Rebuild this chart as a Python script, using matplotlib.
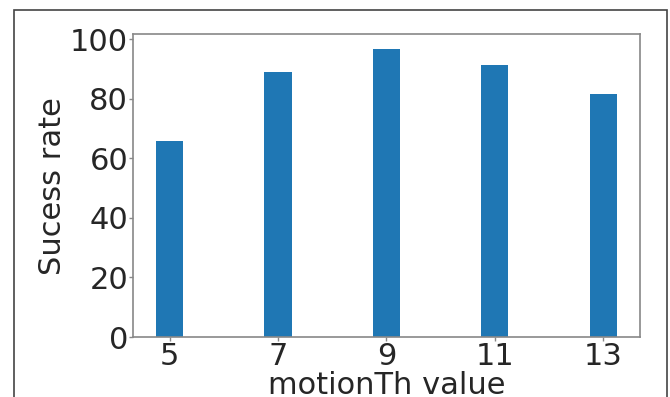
import matplotlib
matplotlib.use("Agg")
import matplotlib.pyplot as plt
from matplotlib.patches import Rectangle

motion_th = [5, 7, 9, 11, 13]
success_rate = [65.9, 89.1, 96.8, 91.4, 81.7]
y_ticks = [0, 20, 40, 60, 80, 100]

fig = plt.figure(figsize=(6.7, 3.97), dpi=100)
ax = fig.add_axes([0.1985, 0.151, 0.7565, 0.763])

ax.bar(motion_th, success_rate, width=0.5, color="#1f77b4")
ax.set_xticks(motion_th)
ax.set_yticks(y_ticks)
ax.set_xlabel("motionTh value", fontsize=22, color="#262626", labelpad=0)
ax.set_ylabel("Sucess rate", fontsize=22, color="#262626", labelpad=2)
ax.tick_params(labelsize=22, labelcolor="#262626", color="#888888", length=3, width=1, pad=0.5)
for s in ax.spines.values():
    s.set_color("#888888")
    s.set_linewidth(1.2)

# outer frame, bottom edge falls outside the picture
fig.patches.append(Rectangle((14 / 670, -0.2), 653 / 670, 1.2 - 10 / 397,
                             transform=fig.transFigure, fill=False,
                             edgecolor="#444444", linewidth=1.2))

fig.savefig("out.png", dpi=100)
